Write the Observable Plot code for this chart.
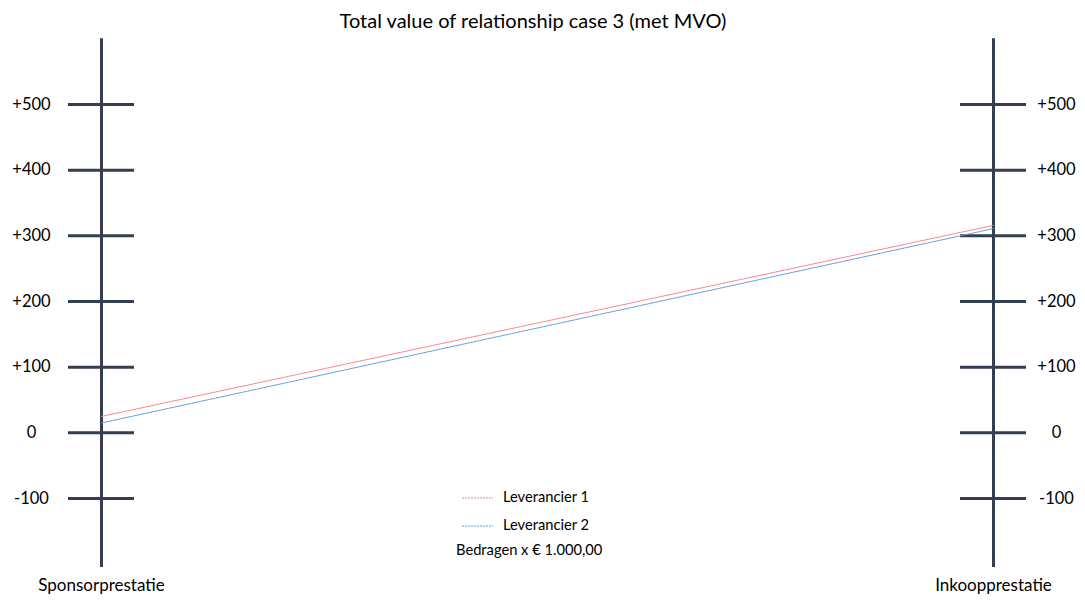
<!DOCTYPE html>
<html>
<head>
<meta charset="utf-8">
<script src="https://cdn.jsdelivr.net/npm/d3@7"></script>
<script src="https://cdn.jsdelivr.net/npm/@observablehq/plot@0.6"></script>
<style>
  html, body { margin: 0; padding: 0; background: #fff; }
  #wrap { position: relative; width: 1085px; height: 601px; font-family: Lato, "Open Sans", sans-serif; color: #000; }
  #title { position: absolute; left: 0; width: 1066px; top: 7px; text-align: center; font-size: 20px; line-height: 26px; }
  .legend { position: absolute; font-size: 14.7px; line-height: 18px; white-space: nowrap; }
  .legend svg { vertical-align: middle; margin-right: 10px; }
</style>
</head>
<body>
<div id="wrap">
  <div id="chart"></div>
  <div id="title">Total value of relationship case 3 (met MVO)</div>
  <div id="legend"></div>
</div>
<script>
// Two vertical axes: sponsoring performance (left) and purchasing performance (right)
const axes = ["Sponsorprestatie", "Inkoopprestatie"];
// Tick values and their printed labels (amounts x € 1.000)
const tickValues = [-100, 0, 100, 200, 300, 400, 500];
const tickLabels = ["-100", "0", "+100", "+200", "+300", "+400", "+500"];
// Extent of each vertical axis line
const axisExtent = [-205, 600];
// Series: value on each axis
const series = ["Leverancier 1", "Leverancier 2"];
const sponsorValues = [25, 15];
const inkoopValues = [316, 311];
const colors = ["#FF7C80", "#5B9BD5"];

const axisColor = "#333F50";

const lineData = series.flatMap((s, i) => [
  {series: s, axis: axes[0], value: sponsorValues[i]},
  {series: s, axis: axes[1], value: inkoopValues[i]}
]);
const tickData = axes.flatMap(a => tickValues.map((v, i) => ({axis: a, value: v, label: tickLabels[i]})));
const axisLines = axes.map(a => ({axis: a, y1: axisExtent[0], y2: axisExtent[1]}));

const chart = Plot.plot({
  width: 1085,
  height: 601,
  margin: 0,
  style: {fontFamily: "Lato, 'Open Sans', sans-serif", fontSize: "16.5px", color: "#000", background: "#fff"},
  x: {type: "band", domain: axes, range: [68, 1027], paddingInner: 0.926, paddingOuter: 0, axis: null},
  y: {domain: [-100, 500], range: [498, 104], axis: null},
  color: {domain: series, range: colors},
  marks: [
    Plot.ruleX(axisLines, {x: "axis", y1: "y1", y2: "y2", stroke: axisColor, strokeWidth: 3}),
    Plot.tickY(tickData, {x: "axis", y: "value", stroke: axisColor, strokeWidth: 3}),
    Plot.text(tickData.filter(d => d.axis === axes[0]), {x: "axis", y: "value", text: "label", dx: -70, fill: "#000"}),
    Plot.text(tickData.filter(d => d.axis === axes[1]), {x: "axis", y: "value", text: "label", dx: 63, fill: "#000"}),
    Plot.text(axes, {x: d => d, text: d => d, frameAnchor: "bottom", dy: -11, fill: "#000", fontSize: 17}),
    Plot.line(lineData, {x: "axis", y: "value", z: "series", stroke: "series", strokeWidth: 1, strokeDasharray: "2,1"})
  ]
});
document.getElementById("chart").appendChild(chart);

// Legend below the lines
const legend = document.getElementById("legend");
series.forEach((s, i) => {
  const div = document.createElement("div");
  div.className = "legend";
  div.style.left = "462px";
  div.style.top = (487 + i * 28) + "px";
  div.innerHTML = `<svg width="31" height="4"><line x1="0" x2="31" y1="2" y2="2" stroke="${colors[i]}" stroke-width="1" stroke-dasharray="2,1"/></svg>${s}`;
  legend.appendChild(div);
});
const note = document.createElement("div");
note.className = "legend";
note.style.left = "456px";
note.style.top = "540px";
note.textContent = "Bedragen x € 1.000,00";
legend.appendChild(note);
</script>
</body>
</html>
